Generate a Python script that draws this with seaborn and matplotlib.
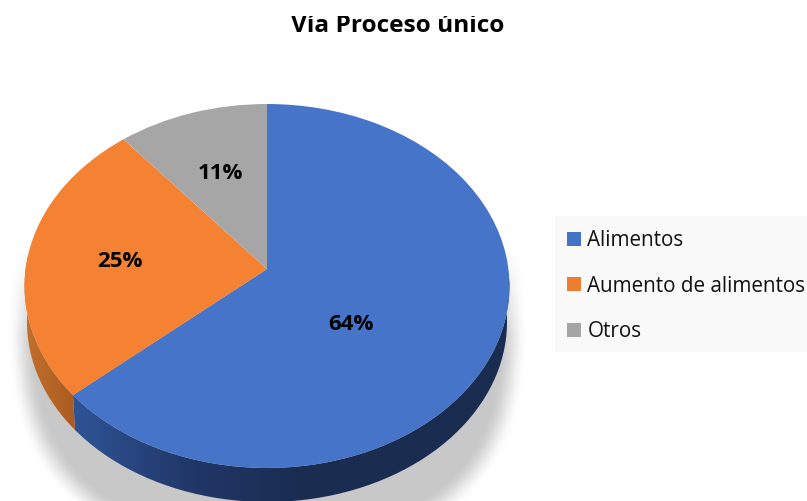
import numpy as np
import matplotlib
matplotlib.use("Agg")
import matplotlib.pyplot as plt
import seaborn as sns
from matplotlib.patches import Patch, PathPatch, Rectangle
from matplotlib.path import Path
from matplotlib.transforms import Transform
from matplotlib.colors import LinearSegmentedColormap

# data
labels = ["Alimentos", "Aumento de alimentos", "Otros"]
values = [63.6, 25.4, 11.0]
title = "Vía Proceso único"

# colours
face_colors = ["#4674C8", "#F58233", "#A6A6A6"]
legend_colors = ["#4472C4", "#ED7D31", "#A5A5A5"]

# where the percent labels sit, in pie units
label_xy = [(0.339, -0.297), (-0.612, 0.039), (-0.205, 0.555)]

# pie geometry in image pixels
cx, cy = 267, 269
sx, sy = 241.4, 180.4
k = 0.0934
depth = 36


class Tilt(Transform):
    # tilted disc: perspective from pie units to image pixels
    input_dims = 2
    output_dims = 2

    def __init__(self, drop=0, shrink=1.0):
        super().__init__()
        self.drop = drop
        self.shrink = shrink

    def transform_non_affine(self, xy):
        xy = np.asarray(xy)
        w = 1 + k * xy[:, 1]
        return np.column_stack([cx + self.shrink * sx * xy[:, 0] / w,
                                cy + self.drop - self.shrink * sy * xy[:, 1] / w])


sns.set_theme(style="white")
plt.rcParams["font.family"] = ["Open Sans", "DejaVu Sans"]

fig, ax = plt.subplots(figsize=(8.07, 5.01), dpi=100)
fig.subplots_adjust(0, 0, 1, 1)

wedges, _, autotexts = ax.pie(values, colors=sns.color_palette(face_colors), startangle=90,
                              counterclock=False, autopct="%.0f%%", radius=1.0)
ax.set_aspect("auto")
ax.set_xlim(0, 807)
ax.set_ylim(501, 0)
ax.axis("off")

top = Tilt()
bottom = Tilt(drop=depth, shrink=0.99)
for w in wedges:
    w.set_transform(top + ax.transData)
    w.set_zorder(5)
    w.set_linewidth(0)

# percent labels
for t, xy in zip(autotexts, label_xy):
    t.set_position(xy)
    t.set_transform(top + ax.transData)
    t.set_fontsize(16)
    t.set_fontweight("bold")
    t.set_color("black")
    t.set_zorder(6)


def side_path(a1, a2):
    # wall of the disc between two angles
    a = np.deg2rad(np.linspace(a1, a2, 120))
    ring = np.column_stack([np.cos(a), np.sin(a)])
    upper = top.transform_non_affine(ring)
    lower = bottom.transform_non_affine(ring)[::-1]
    return Path(np.vstack([upper, lower, upper[:1]]))


def gradient_wall(a1, a2, x0, x1, colors):
    cmap = LinearSegmentedColormap.from_list("wall", colors)
    im = ax.imshow(np.linspace(0, 1, 256).reshape(1, -1), cmap=cmap, extent=(x0, x1, 501, 0),
                   aspect="auto", zorder=3)
    clip = PathPatch(side_path(a1, a2), transform=ax.transData, facecolor="none", edgecolor="none")
    ax.add_patch(clip)
    im.set_clip_path(clip)


# blue wall along the front, orange wall on the left
corner = wedges[0].theta1
gradient_wall(corner, -3, 70, 530, ["#2F5597", "#22386A", "#1A2C50", "#1A2C50", "#1A2C50"])
gradient_wall(corner + 360, 176, 20, 80, ["#C4722E", "#A8591F"])

# soft shadow under the disc, a bit boxier than the disc itself
yy, xx = np.mgrid[0:501, 0:540]
rim = 1 - (np.abs((xx - 267) / 260) ** 2.6 + np.abs((yy - 320) / 235) ** 2.6) ** (1 / 2.6)
fade = np.clip((yy - 235) / 100, 0, 1) ** 1.2
shade = np.clip(rim / 0.11, 0, 1)
shade = shade * shade * (3 - 2 * shade)
rgba = np.zeros(yy.shape + (4,))
rgba[..., :3] = 0.55
rgba[..., 3] = 0.48 * shade * fade
ax.imshow(rgba, extent=(0, 540, 501, 0), aspect="auto", zorder=1)
ax.set_xlim(0, 807)
ax.set_ylim(501, 0)

# title is cut off at the top in the original
t = ax.text(398, 32, title, ha="center", va="baseline", fontsize=17.6, fontweight="bold", color="black")
t.set_clip_path(Rectangle((0, 16), 807, 40, transform=ax.transData))
t.set_clip_on(True)

# legend panel
ax.add_patch(Rectangle((555, 216), 252, 136, facecolor="#F9F9F9", edgecolor="none", zorder=1))
handles = [Patch(facecolor=c, edgecolor="none") for c in legend_colors]
leg = ax.legend(handles, labels, loc="upper left", bbox_to_anchor=(555, 218), bbox_transform=ax.transData,
                borderaxespad=0, frameon=False, fontsize=14.9, labelspacing=1.18, handlelength=0.68,
                handleheight=0.68, handletextpad=0.3, borderpad=0.59)
for txt in leg.get_texts():
    txt.set_color("#111111")

fig.savefig("out.png", dpi=100)
